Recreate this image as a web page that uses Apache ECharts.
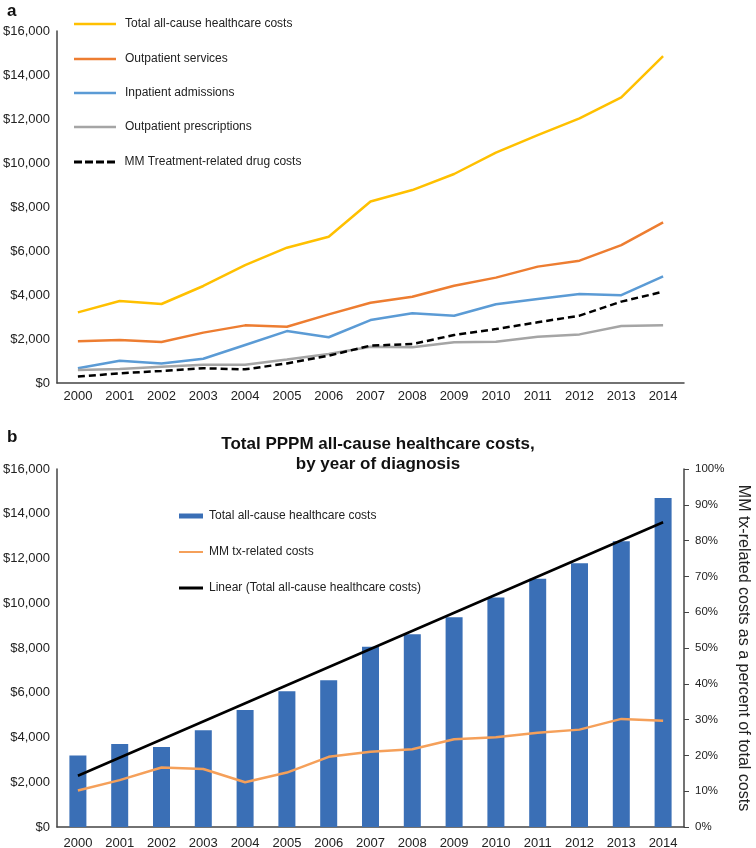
<!DOCTYPE html>
<html>
<head>
<meta charset="utf-8">
<script src="https://cdn.jsdelivr.net/npm/echarts@6/dist/echarts.min.js"></script>
<style>
html,body{margin:0;padding:0;background:#fff;}
#c{width:756px;height:848px;}
</style>
</head>
<body>
<div id="c"></div>
<script>
// ---- Data ----
var years = ['2000','2001','2002','2003','2004','2005','2006','2007','2008','2009','2010','2011','2012','2013','2014'];

// Panel a (USD)
var totalCostsA      = [3210, 3730, 3590, 4410, 5360, 6150, 6650, 8250, 8770, 9500, 10470, 11270, 12030, 12980, 14860];
var outpatientServ   = [1900, 1950, 1860, 2290, 2620, 2560, 3120, 3650, 3920, 4420, 4790, 5290, 5560, 6270, 7300];
var inpatientAdm     = [670, 1010, 890, 1100, 1730, 2360, 2080, 2860, 3170, 3060, 3580, 3820, 4050, 3990, 4850];
var outpatientPresc  = [590, 640, 740, 830, 830, 1070, 1320, 1650, 1620, 1850, 1880, 2100, 2210, 2590, 2620];
var mmDrugCosts      = [290, 440, 550, 670, 620, 890, 1240, 1700, 1770, 2180, 2450, 2760, 3060, 3700, 4150];

// Panel b
var totalCostsB      = [3200, 3710, 3570, 4320, 5230, 6070, 6560, 8060, 8610, 9370, 10260, 11100, 11790, 12770, 14700];
var mmTxPercent      = [10.2, 13.1, 16.6, 16.2, 12.5, 15.2, 19.6, 21.0, 21.7, 24.5, 25.1, 26.3, 27.2, 30.2, 29.7];
var linearTrend      = [2290, null, null, null, null, null, null, null, null, null, null, null, null, null, 13620];

var namesA = ['Total all-cause healthcare costs','Outpatient services','Inpatient admissions','Outpatient prescriptions','MM Treatment-related drug costs'];
var namesB = ['Total all-cause healthcare costs ','MM tx-related costs','Linear (Total all-cause healthcare costs)'];
var titleB = 'Total PPPM all-cause healthcare costs,\nby year of diagnosis';

// ---- Chart ----
var FONT = '"Liberation Sans", Arial, sans-serif';
var TXT = '#222';
var AX = '#444';
function money(v){ return '$' + v.toLocaleString('en-US'); }

var chart = echarts.init(document.getElementById('c'), null, {renderer:'canvas'});

var DASH_ICON = 'path://M0,0H8V3H0Z M11,0H19V3H11Z M22,0H30V3H22Z M33,0H41V3H33Z';
var legendTopsA = [18, 53, 87, 121, 156];
var legendTopsB = [510, 546, 582];
var iconsA = ['rect','rect','rect','rect',DASH_ICON];
var iconHA = [2.5, 2.5, 2.5, 2.5, 3];
var iconHB = [5, 2, 3];

var legends = [];
namesA.forEach(function(n, i){
  legends.push({
    data:[{name:n, icon:iconsA[i]}], left:74, top:legendTopsA[i], orient:'vertical',
    itemWidth:42, itemHeight:iconHA[i], padding:0,
    textStyle:{fontFamily:FONT, fontSize:12, color:TXT, padding:[0,0,0,4]}
  });
});
namesB.forEach(function(n, i){
  legends.push({
    data:[{name:n, icon:'rect'}], left:179, top:legendTopsB[i], orient:'vertical',
    itemWidth:24, itemHeight:iconHB[i], padding:0,
    textStyle:{fontFamily:FONT, fontSize:12, color:TXT, padding:[0,0,0,1]},
    formatter: function(name){ return name.trim(); }
  });
});

var option = {
  backgroundColor:'#fff',
  animation:false,
  textStyle:{fontFamily:FONT},
  title:[
    {text:'a', left:2, top:-2, textStyle:{fontFamily:FONT, fontSize:17, fontWeight:'bold', color:'#111'}},
    {text:'b', left:2, top:424, textStyle:{fontFamily:FONT, fontSize:17, fontWeight:'bold', color:'#111'}},
    {text:titleB, left:373, textAlign:'center', top:429,
     textStyle:{fontFamily:FONT, fontSize:17, fontWeight:'bold', color:'#111', lineHeight:20}}
  ],
  legend: legends,
  grid:[
    {left:57, right:72, top:31, height:352, containLabel:false, outerBoundsMode:'none'},
    {left:57, right:72, top:469, height:358, containLabel:false, outerBoundsMode:'none'}
  ],
  xAxis:[
    {type:'category', gridIndex:0, data:years, boundaryGap:true,
     axisLine:{lineStyle:{color:AX, width:1.5}}, axisTick:{show:false},
     axisLabel:{color:TXT, fontSize:13, fontFamily:FONT, margin:7, interval:0}},
    {type:'category', gridIndex:1, data:years, boundaryGap:true,
     axisLine:{lineStyle:{color:AX, width:1.5}}, axisTick:{show:false},
     axisLabel:{color:TXT, fontSize:13, fontFamily:FONT, margin:10, interval:0}}
  ],
  yAxis:[
    {type:'value', gridIndex:0, min:0, max:16000, interval:2000,
     axisLine:{show:true, lineStyle:{color:AX, width:1.5}}, axisTick:{show:false},
     splitLine:{show:false},
     axisLabel:{color:TXT, fontSize:13, fontFamily:FONT, margin:7, formatter:money}},
    {type:'value', gridIndex:1, min:0, max:16000, interval:2000,
     axisLine:{show:true, lineStyle:{color:AX, width:1.5}}, axisTick:{show:false},
     splitLine:{show:false},
     axisLabel:{color:TXT, fontSize:13, fontFamily:FONT, margin:7, formatter:money}},
    {type:'value', gridIndex:1, position:'right', min:0, max:100, interval:10,
     axisLine:{show:true, lineStyle:{color:AX, width:1.5}},
     axisTick:{show:true, inside:false, length:5, lineStyle:{color:AX}},
     splitLine:{show:false},
     axisLabel:{color:TXT, fontSize:11.5, fontFamily:FONT, margin:11, formatter:'{value}%'},
     name:'MM tx-related costs as a percent of total costs',
     nameLocation:'middle', nameRotate:-90, nameGap:50,
     nameTextStyle:{color:TXT, fontSize:16, fontFamily:FONT}}
  ],
  series:[
    {name:namesA[0], type:'line', xAxisIndex:0, yAxisIndex:0, data:totalCostsA, showSymbol:false, symbol:'none',
     itemStyle:{color:'#FFC000'}, lineStyle:{color:'#FFC000', width:2.5}},
    {name:namesA[1], type:'line', xAxisIndex:0, yAxisIndex:0, data:outpatientServ, showSymbol:false, symbol:'none',
     itemStyle:{color:'#ED7D31'}, lineStyle:{color:'#ED7D31', width:2.5}},
    {name:namesA[2], type:'line', xAxisIndex:0, yAxisIndex:0, data:inpatientAdm, showSymbol:false, symbol:'none',
     itemStyle:{color:'#5B9BD5'}, lineStyle:{color:'#5B9BD5', width:2.5}},
    {name:namesA[3], type:'line', xAxisIndex:0, yAxisIndex:0, data:outpatientPresc, showSymbol:false, symbol:'none',
     itemStyle:{color:'#A5A5A5'}, lineStyle:{color:'#A5A5A5', width:2.5}},
    {name:namesA[4], type:'line', xAxisIndex:0, yAxisIndex:0, data:mmDrugCosts, showSymbol:false, symbol:'none',
     itemStyle:{color:'#000'}, lineStyle:{color:'#000', width:2.5, type:[7,4]}},

    {name:namesB[0], type:'bar', xAxisIndex:1, yAxisIndex:1, data:totalCostsB, barWidth:17,
     itemStyle:{color:'#3A6FB6'}},
    {name:namesB[1], type:'line', xAxisIndex:1, yAxisIndex:2, data:mmTxPercent, showSymbol:false, symbol:'none',
     itemStyle:{color:'#F5A05A'}, lineStyle:{color:'#F5A05A', width:2.5}, z:3},
    {name:namesB[2], type:'line', xAxisIndex:1, yAxisIndex:1, data:linearTrend, connectNulls:true, showSymbol:false, symbol:'none',
     itemStyle:{color:'#000'}, lineStyle:{color:'#000', width:2.5}, z:4}
  ]
};
chart.setOption(option);
</script>
</body>
</html>
